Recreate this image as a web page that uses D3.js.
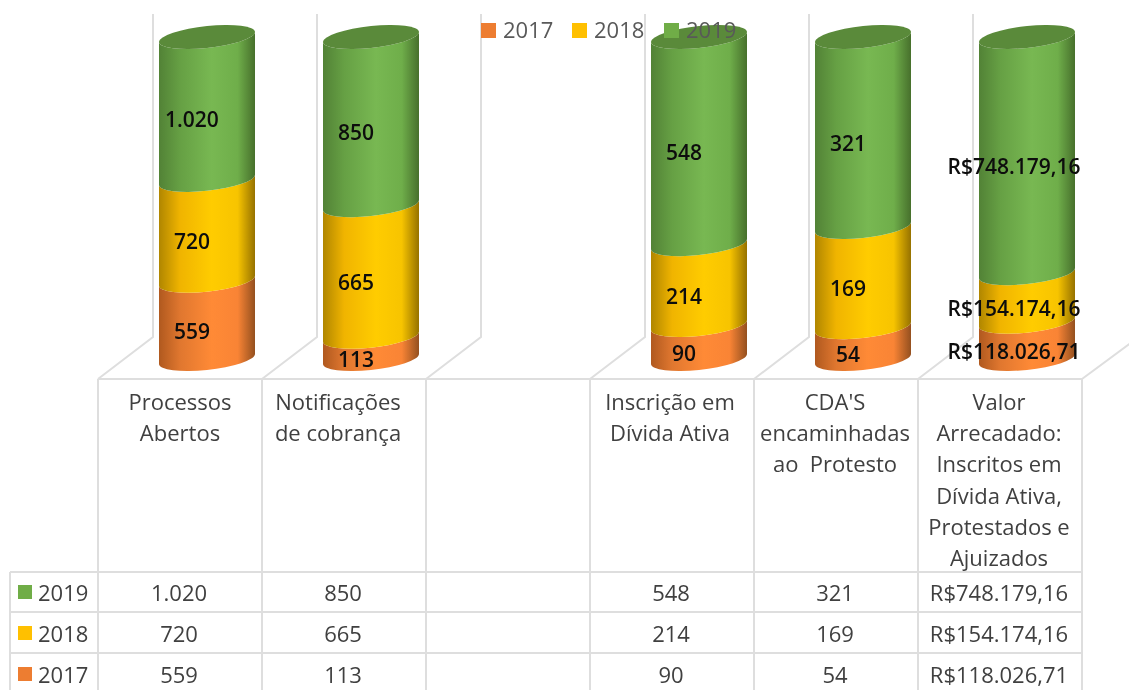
<!DOCTYPE html>
<html><head><meta charset="utf-8">
<style>
html,body{margin:0;padding:0;background:#fff;overflow:hidden}
svg{display:block;filter:blur(0.4px)}
text{font-family:"Open Sans","Noto Sans",sans-serif;white-space:pre}
</style>
<script src="https://cdn.jsdelivr.net/npm/d3@7/dist/d3.min.js"></script>
</head><body><svg id="c" width="1129" height="690"></svg>
<script>
const categories=["Processos\nAbertos","Notificações\nde cobrança","","Inscrição em\nDívida Ativa","CDA'S\nencaminhadas\nao  Protesto","Valor\nArrecadado:\nInscritos em\nDívida Ativa,\nProtestados e\nAjuizados"];
const years=["2017","2018","2019"];
const v2017=[559,113,null,90,54,118026.71];
const v2018=[720,665,null,214,169,154174.16];
const v2019=[1020,850,null,548,321,748179.16];
const isMoney=[false,false,false,false,false,true];
const yearColors=["#ed7d31","#ffc000","#70ad47"];
const gradStops=[["#b0591f","#e0772f","#ff8a36","#f98435","#94501f"],["#b08600","#f0b400","#ffcc00","#f7c400","#967200"],["#528236","#66a044","#78b852","#6fae4a","#47702c"]];

const svg=d3.select("#c");
const loc=d3.formatLocale({decimal:",",thousands:".",grouping:[3],currency:["R$",""]});
const fInt=loc.format(",d"),fMoney=loc.format("$,.2f");
const fmt=(v,i)=>v==null?"":(isMoney[i]?fMoney(v):fInt(v));
const series=[v2017,v2018,v2019];
const idx=d3.range(categories.length);

const x=d3.scaleBand().domain(idx).range([98,1082]);
const y=d3.scaleLinear().domain([0,1]).range([359,37]);
const grid="#dedede";
const F=22;

const defs=svg.append("defs");
gradStops.forEach((s,k)=>{
  const g=defs.append("linearGradient").attr("id","g"+k);
  [0,.22,.55,.82,1].forEach((o,j)=>g.append("stop").attr("offset",o).attr("stop-color",s[j]));
});

// walls and floor
const gl=svg.append("g").attr("stroke",grid).attr("stroke-width",2).attr("fill","none");
const wallDx=55, floorY=379, backY=337, wallTop=14;
x.domain().concat([6]).forEach(i=>{
  const bx=i<6?x(i):1082;
  if(i<6) gl.append("path").attr("d",`M${bx+wallDx},${wallTop}V${backY}L${bx},${floorY}`);
  else gl.append("path").attr("d",`M${bx},${floorY}L1132,342`);
  gl.append("line").attr("x1",bx).attr("x2",bx).attr("y1",floorY).attr("y2",690);
});
gl.append("line").attr("x1",98).attr("x2",1082).attr("y1",floorY).attr("y2",floorY);
const rowY=[572,612,653];
rowY.forEach(ry=>gl.append("line").attr("x1",10).attr("x2",1082).attr("y1",ry).attr("y2",ry));
gl.append("line").attr("x1",10).attr("x2",10).attr("y1",572).attr("y2",690);

// cylinders
const rx=48, ry=11, cxOff=27;
const cyl=svg.append("g");
idx.forEach(i=>{
  const total=d3.sum(series,s=>s[i]||0);
  if(!total) return;
  const cx=x(i)+x.bandwidth()/2+cxOff;
  const g=cyl.append("g").attr("transform",`translate(${cx},0) skewY(-6)`);
  let acc=0;
  series.forEach((s,k)=>{
    const a=y(acc/total),b=y((acc+s[i])/total);
    g.append("path").attr("fill",`url(#g${k})`)
     .attr("d",`M${-rx},${b}V${a}A${rx},${ry} 0 0 0 ${rx},${a}V${b}A${rx},${ry} 0 0 1 ${-rx},${b}Z`);
    acc+=s[i];
  });
  g.append("ellipse").attr("cx",0).attr("cy",y(1)).attr("rx",rx).attr("ry",ry).attr("fill","#5a8a3a");
});

// legend, painted over the cylinders
const lg=svg.append("g");
const legX=[481,572,664];
years.forEach((t,k)=>{
  lg.append("rect").attr("x",legX[k]).attr("y",23).attr("width",15).attr("height",15).attr("fill",yearColors[k]);
  lg.append("text").attr("x",legX[k]+22).attr("y",38).attr("font-size",F).attr("fill","#595959").text(t);
});

// data labels
const lab=svg.append("g");
idx.forEach(i=>{
  const total=d3.sum(series,s=>s[i]||0);
  if(!total) return;
  const cx=x(i)+x.bandwidth()/2+cxOff-15+(isMoney[i]?2:0);
  let acc=0;
  series.forEach(s=>{
    const m=y((acc+s[i]/2)/total);
    lab.append("text").attr("x",cx).attr("y",m+19).attr("text-anchor","middle")
      .attr("font-size",21).attr("font-weight",600).attr("fill","#0d0d0d").text(fmt(s[i],i));
    acc+=s[i];
  });
});

// category labels
const cat=svg.append("g");
const nudge=[0,-6,0,-2,-1,-1];
categories.forEach((c,i)=>{
  c.split("\n").forEach((ln,j)=>{
    cat.append("text").attr("x",x(i)+x.bandwidth()/2+nudge[i]).attr("y",410+j*31.2)
      .attr("text-anchor","middle").attr("font-size",F).attr("fill","#404040").text(ln);
  });
});

// data table
const tb=svg.append("g");
[2,1,0].forEach((k,r)=>{
  const base=600.5+r*41;
  tb.append("rect").attr("x",18).attr("y",base-15.5).attr("width",14).attr("height",14).attr("fill",yearColors[k]);
  tb.append("text").attr("x",38).attr("y",base).attr("font-size",F).attr("fill","#404040").text(years[k]);
  idx.forEach(i=>{
    tb.append("text").attr("x",x(i)+x.bandwidth()/2-1).attr("y",base).attr("text-anchor","middle")
      .attr("font-size",F).attr("fill","#404040").text(fmt(series[k][i],i));
  });
});
</script></body></html>
